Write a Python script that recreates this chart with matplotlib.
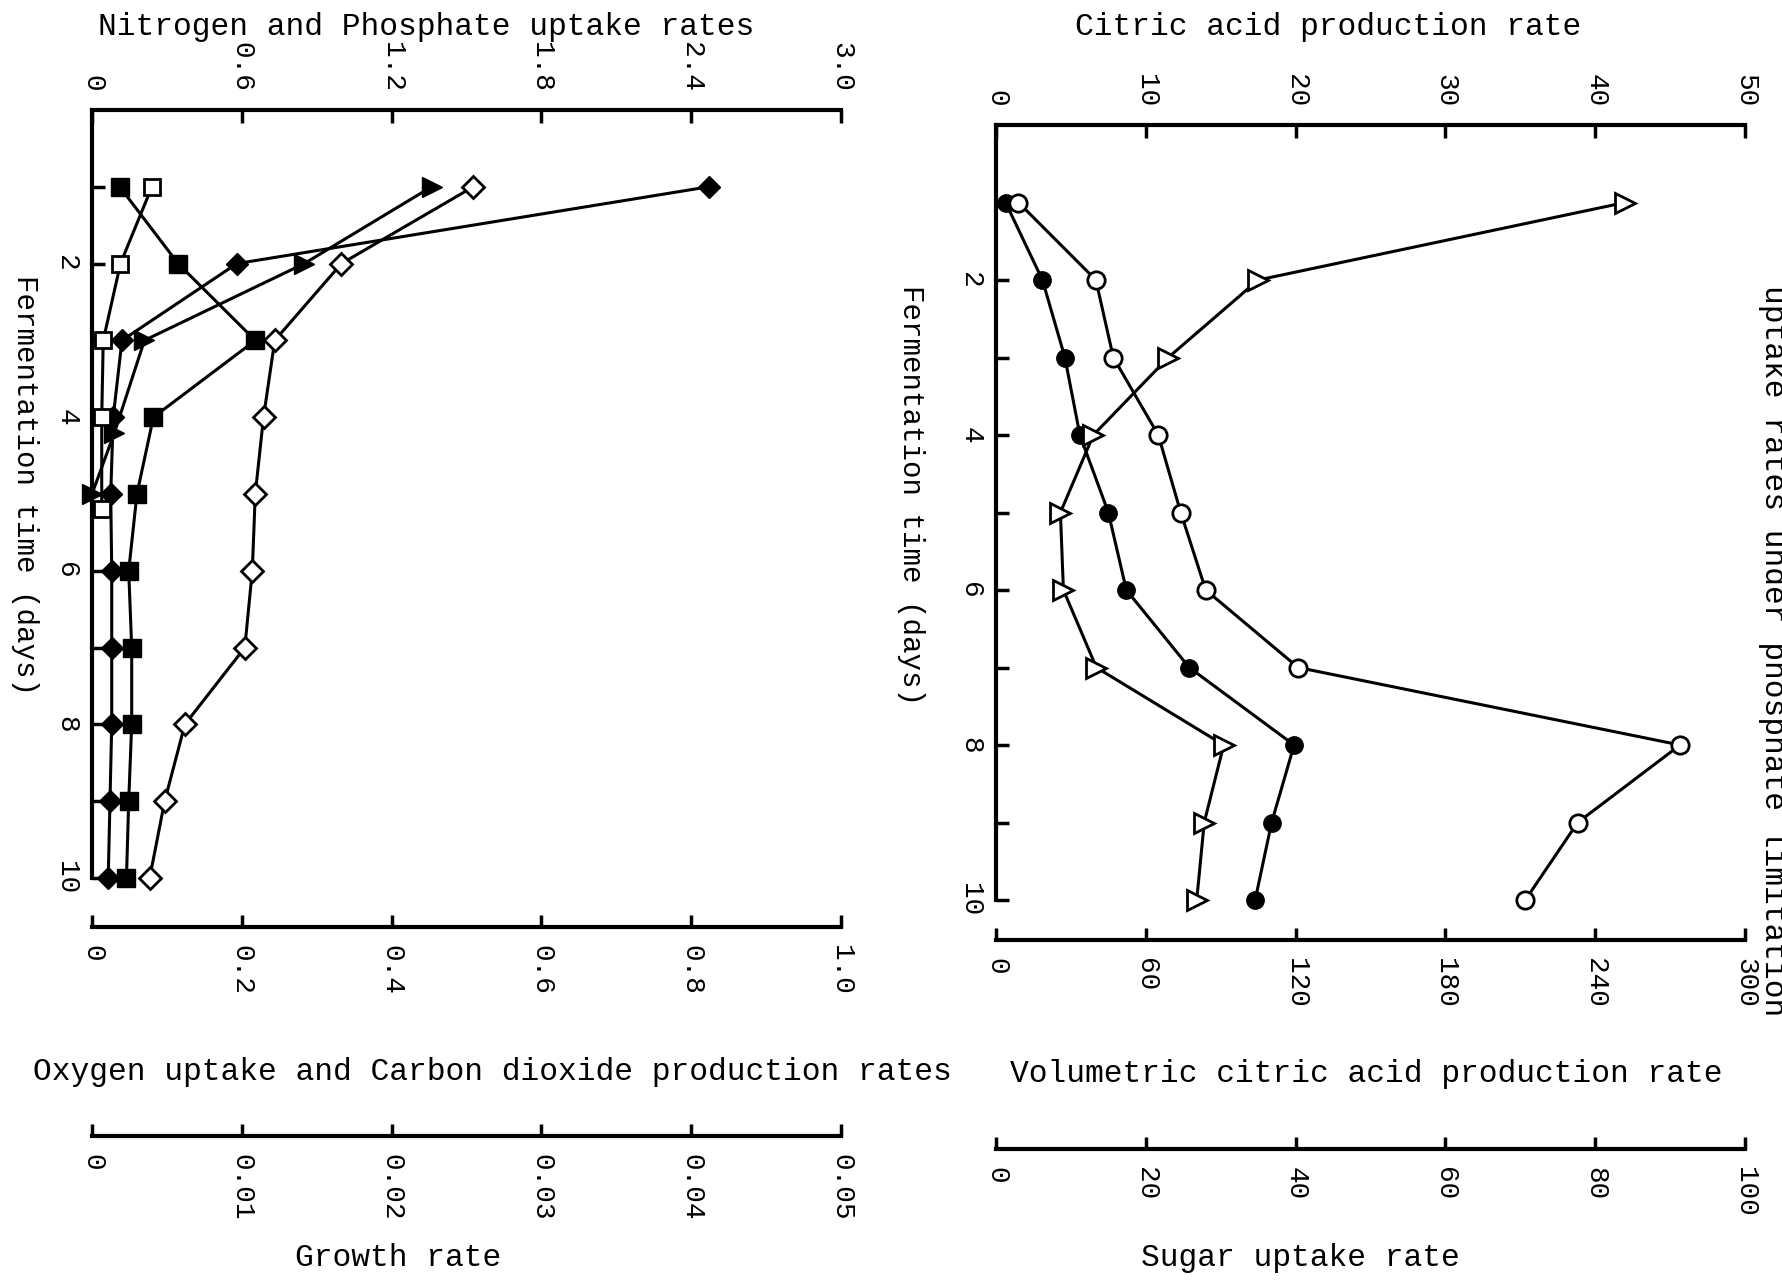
import matplotlib.pyplot as plt

plt.rcParams['font.family'] = ['Liberation Mono', 'DejaVu Sans Mono']

days = [1, 2, 3, 4, 5, 6, 7, 8, 9, 10]

# left panel: nitrogen / phosphate on the 0-3.0 scale
nitrogen = [2.47, 0.58, 0.12, 0.085, 0.075, 0.079, 0.079, 0.079, 0.072, 0.065]
phosphate_days = [1, 2, 3, 4.2, 5]
phosphate = [1.36, 0.85, 0.21, 0.09, 0.0]
# oxygen / carbon dioxide on the 0-1.0 scale
oxygen = [0.509, 0.333, 0.244, 0.229, 0.218, 0.214, 0.204, 0.124, 0.097, 0.077]
carbon_dioxide = [0.037, 0.115, 0.218, 0.082, 0.060, 0.049, 0.053, 0.053, 0.049, 0.046]
# growth rate on the 0-0.05 scale
growth_days = [1, 2, 3, 4, 5.2]
growth = [0.0040, 0.0019, 0.00075, 0.00065, 0.00065]

# right panel
citric = [0.64, 3.1, 4.6, 5.6, 7.5, 8.7, 12.9, 19.9, 18.4, 17.3]
volumetric = [9, 40, 47, 65, 74, 84, 121, 274, 233, 212]
sugar = [84, 35, 23, 13, 8.6, 9, 13.4, 30.4, 27.8, 26.8]

np_ticks = [0, 0.6, 1.2, 1.8, 2.4, 3.0]
np_labels = ['0', '0.6', '1.2', '1.8', '2.4', '3.0']
gas_ticks = [0, 0.2, 0.4, 0.6, 0.8, 1.0]
gas_labels = ['0', '0.2', '0.4', '0.6', '0.8', '1.0']
growth_ticks = [0, 0.01, 0.02, 0.03, 0.04, 0.05]
growth_labels = ['0', '0.01', '0.02', '0.03', '0.04', '0.05']
citric_ticks = [0, 10, 20, 30, 40, 50]
vol_ticks = [0, 60, 120, 180, 240, 300]
sugar_ticks = [0, 20, 40, 60, 80, 100]

W, H = 1783, 1287
fig = plt.figure(figsize=(W / 100, H / 100), dpi=100)

LW = 2.2
SW = 3.0
TS = 20


def style_ticks(a, axis, which='major', pad=13):
    a.tick_params(axis=axis, which=which, direction='in', length=9, width=2.5,
                  pad=pad, labelsize=TS, labelrotation=-90)


def make_panel(x0, x1, ytop, ybot):
    ax = fig.add_axes([x0 / W, 1 - ybot / H, (x1 - x0) / W, (ybot - ytop) / H])
    return ax


def bottom_twin(ax, lim, ticks, labels, out):
    t = ax.twiny()
    t.set_xlim(lim)
    t.xaxis.set_ticks_position('bottom')
    for s in ['top', 'left', 'right']:
        t.spines[s].set_visible(False)
    t.spines['bottom'].set_position(('outward', out))
    t.spines['bottom'].set_linewidth(SW)
    t.set_xticks(ticks)
    t.set_xticklabels(labels)
    style_ticks(t, 'x')
    for lbl in t.get_xticklabels():
        lbl.set_va('top')
    return t


def finish_main(ax, lim, ticks, labels):
    ax.set_xlim(lim)
    ax.spines['right'].set_visible(False)
    ax.spines['bottom'].set_visible(False)
    ax.spines['left'].set_linewidth(SW)
    ax.spines['top'].set_linewidth(SW)
    ax.xaxis.set_ticks_position('top')
    ax.set_xticks(ticks)
    ax.set_xticklabels(labels)
    style_ticks(ax, 'x')
    for lbl in ax.get_xticklabels():
        lbl.set_va('bottom')
    ax.set_yticks([2, 4, 6, 8, 10])
    ax.set_yticks([1, 3, 5, 7, 9], minor=True)
    style_ticks(ax, 'y', pad=9)
    style_ticks(ax, 'y', 'minor', pad=9)
    for lbl in ax.get_yticklabels():
        lbl.set_va('center')


# ---------------- left panel ----------------
axL = make_panel(92, 841, 110, 878)
axL_gas = bottom_twin(axL, (0, 1.0), gas_ticks, gas_labels, 35)
axL_gr = bottom_twin(axL, (0, 0.05), growth_ticks, growth_labels, 186)
finish_main(axL, (0, 3.0), np_ticks, np_labels)

axL.plot(nitrogen, days, '-D', color='black', ms=11, lw=LW, clip_on=False)
axL.plot(phosphate, phosphate_days, '->', color='black', ms=14, lw=LW, clip_on=False)
axL_gas.plot(oxygen, days, '-D', color='black', mfc='white', mew=2.0, ms=11, lw=LW, clip_on=False)
axL_gas.plot(carbon_dioxide, days, '-s', color='black', ms=12.5, lw=LW, clip_on=False)
axL_gr.plot(growth, growth_days, '-s', color='black', mfc='white', mew=2.0, ms=12, lw=LW, clip_on=False)
axL.set_ylim(10, 0)

# ---------------- right panel ----------------
axR = make_panel(996, 1745, 125, 900)
axR_vol = bottom_twin(axR, (0, 300), vol_ticks, [str(v) for v in vol_ticks], 29)
axR_sug = bottom_twin(axR, (0, 100), sugar_ticks, [str(v) for v in sugar_ticks], 179)
finish_main(axR, (0, 50), citric_ticks, [str(v) for v in citric_ticks])

axR_sug.plot(sugar, days, '->', color='black', mfc='white', mew=2.0, ms=14, lw=LW, clip_on=False)
axR.plot(citric, days, '-o', color='black', ms=12.5, lw=LW, clip_on=False)
axR_vol.plot(volumetric, days, '-o', color='black', mfc='white', mew=2.0, ms=12.5, lw=LW, clip_on=False)
axR.set_ylim(10, 0)

# ---------------- texts ----------------
TT = 22.5
fig.text(426 / W, 1 - 27 / H, 'Nitrogen and Phosphate uptake rates', fontsize=TT, ha='center', va='center')
fig.text(1328 / W, 1 - 27 / H, 'Citric acid production rate', fontsize=TT, ha='center', va='center')
fig.text(492 / W, 1 - 1072 / H, 'Oxygen uptake and Carbon dioxide production rates', fontsize=TT, ha='center', va='center')
fig.text(1366 / W, 1 - 1074 / H, 'Volumetric citric acid production rate', fontsize=TT, ha='center', va='center')
fig.text(398 / W, 1 - 1258 / H, 'Growth rate', fontsize=TT, ha='center', va='center')
fig.text(1300 / W, 1 - 1258 / H, 'Sugar uptake rate', fontsize=TT, ha='center', va='center')
fig.text(25 / W, 1 - 485 / H, 'Fermentation time (days)', fontsize=21, rotation=-90, ha='center', va='center')
fig.text(911 / W, 1 - 495 / H, 'Fermentation time (days)', fontsize=21, rotation=-90, ha='center', va='center')
fig.text(1758 / W, 1 - 285 / H, 'uptake rates under phosphate limitation', fontsize=TT, rotation=-90, ha='left', va='top')

fig.savefig('out.png', dpi=100, facecolor='white')
